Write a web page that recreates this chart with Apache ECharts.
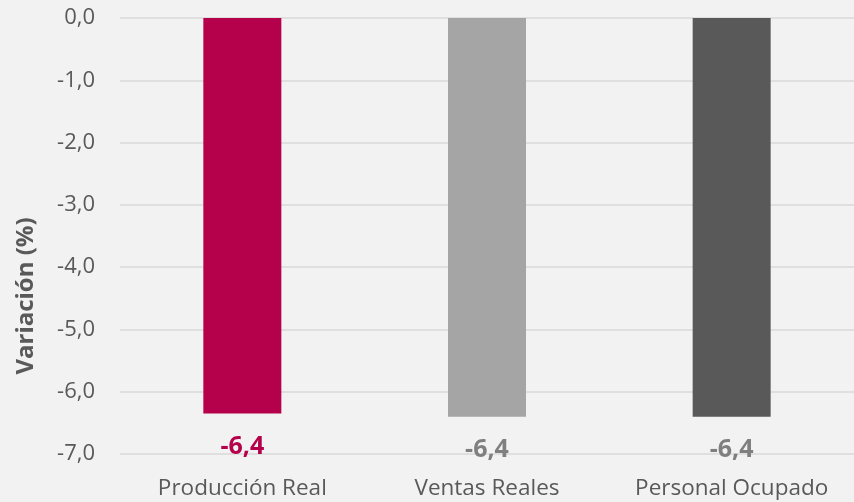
<!DOCTYPE html>
<html>
<head>
<meta charset="utf-8">
<script src="https://cdn.jsdelivr.net/npm/echarts@6/dist/echarts.min.js"></script>
<style>
  html, body { margin: 0; padding: 0; background: #f2f2f2; }
  #chart { width: 854px; height: 502px; }
</style>
</head>
<body>
<div id="chart"></div>
<script>
const categories = ["Producción Real", "Ventas Reales", "Personal Ocupado"];
const values = [-6.35, -6.4, -6.4];
const barColors = ["#B5004B", "#A5A5A5", "#595959"];
const labelColors = ["#B5004B", "#7F7F7F", "#7F7F7F"];

// 1 decimal with comma, rounding half away from zero
const fmt = (v) => {
  const r = Math.sign(v) * Math.round(Math.abs(v) * 10 + 1e-9) / 10;
  return r.toFixed(1).replace(".", ",");
};

const chart = echarts.init(document.getElementById("chart"));

chart.setOption({
  backgroundColor: "#f2f2f2",
  animation: false,
  textStyle: { fontFamily: "Open Sans" },
  grid: { left: 120, right: -4, top: 18, bottom: 48, containLabel: false },
  xAxis: {
    type: "category",
    data: categories,
    axisLine: { show: false },
    axisTick: { show: false },
    axisLabel: { color: "#595959", fontSize: 22.5, margin: 23, interval: 0 },
  },
  yAxis: {
    type: "value",
    min: -7,
    max: 0,
    interval: 1,
    name: "Variación (%)",
    nameLocation: "middle",
    nameGap: 82,
    nameTextStyle: {
      color: "#595959",
      fontSize: 24,
      fontWeight: "bold",
      padding: [0, 120, 0, 0],
    },
    axisLine: { show: false },
    axisTick: { show: false },
    axisLabel: { color: "#595959", fontSize: 22, margin: 25, formatter: (v) => fmt(v) },
    splitLine: { lineStyle: { color: "#D9D9D9", width: 1.5 } },
  },
  series: [
    {
      type: "bar",
      barWidth: 78,
      data: values.map((v, i) => ({
        value: v,
        itemStyle: { color: barColors[i] },
        label: { color: labelColors[i] },
      })),
      label: {
        show: true,
        position: "bottom",
        distance: 21,
        fontSize: 25,
        fontWeight: "bold",
        formatter: (p) => fmt(p.value),
      },
    },
  ],
});
</script>
</body>
</html>
